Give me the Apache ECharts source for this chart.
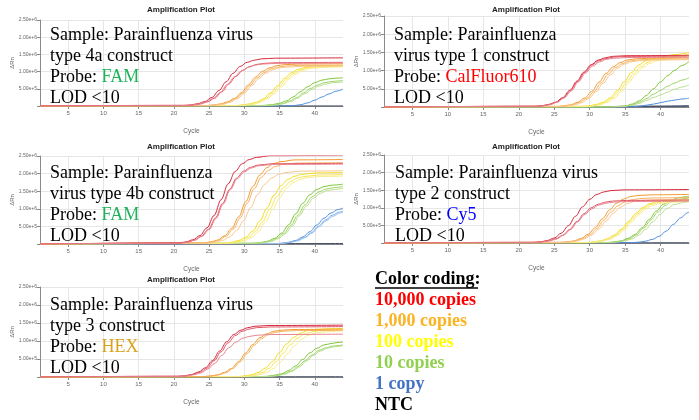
<!DOCTYPE html>
<html lang="en">
<head>
<meta charset="UTF-8">
<script src="https://cdn.jsdelivr.net/npm/echarts@6/dist/echarts.min.js"></script>
<title>Amplification Plots</title>
<style>html,body{margin:0;padding:0;background:#fff;}</style>
</head>
<body>
<div id="main" style="width:699px;height:420px;"></div>
<script type="text/javascript">
// values are dRn in millions
var xTicks = [5, 10, 15, 20, 25, 30, 35, 40];

// panel 1: type 4a, FAM
var p1Red = [
    [[1,0],[21.4,0.02],[22.4,0.03],[23.4,0.07],[24.4,0.13],[25.4,0.25],[26.4,0.45],[27.4,0.70],[28.4,0.95],[29.4,1.15],[30.4,1.27],[31.4,1.33],[32.4,1.37],[34.4,1.39],[44,1.40]],
    [[1,0],[21.8,0.01],[22.8,0.03],[23.8,0.06],[24.8,0.12],[25.8,0.23],[26.8,0.41],[27.8,0.64],[28.8,0.86],[29.8,1.04],[30.8,1.15],[31.8,1.21],[32.8,1.24],[34.8,1.26],[44,1.27]],
    [[1,0],[21.6,0.01],[22.6,0.03],[23.6,0.06],[24.6,0.12],[25.6,0.23],[26.6,0.40],[27.6,0.63],[28.6,0.85],[29.6,1.02],[30.6,1.13],[31.6,1.19],[32.6,1.22],[34.6,1.24],[44,1.25]]
];
var p1Orange = [
    [[1,0],[24.6,0.01],[25.6,0.03],[26.6,0.06],[27.6,0.12],[28.6,0.22],[29.6,0.39],[30.6,0.62],[31.6,0.84],[32.6,1.01],[33.6,1.11],[34.6,1.17],[35.6,1.20],[37.6,1.22],[44,1.23]],
    [[1,0],[24.8,0.01],[25.8,0.03],[26.8,0.06],[27.8,0.11],[28.8,0.22],[29.8,0.38],[30.8,0.60],[31.8,0.81],[32.8,0.97],[33.8,1.08],[34.8,1.13],[35.8,1.16],[37.8,1.18],[44,1.19]],
    [[1,0],[25,0.01],[26,0.03],[27,0.05],[28,0.11],[29,0.21],[30,0.37],[31,0.58],[32,0.79],[33,0.95],[34,1.05],[35,1.11],[36,1.13],[38,1.15],[44,1.16]]
];
var p1Yellow = [
    [[1,0],[28.7,0.01],[29.7,0.03],[30.7,0.06],[31.7,0.11],[32.7,0.21],[33.7,0.38],[34.7,0.59],[35.7,0.80],[36.7,0.97],[37.7,1.07],[38.7,1.12],[39.7,1.15],[41.7,1.17],[44,1.18]],
    [[1,0],[29,0.01],[30,0.03],[31,0.05],[32,0.11],[33,0.21],[34,0.37],[35,0.58],[36,0.79],[37,0.95],[38,1.05],[39,1.11],[40,1.13],[42,1.15],[44,1.16]],
    [[1,0],[29.3,0.01],[30.3,0.03],[31.3,0.05],[32.3,0.11],[33.3,0.21],[34.3,0.37],[35.3,0.57],[36.3,0.77],[37.3,0.93],[38.3,1.03],[39.3,1.09],[40.3,1.11],[42.3,1.13],[44,1.14]]
];
var p1Green = [
    [[1,0],[32,0.01],[33,0.02],[34,0.04],[35,0.08],[36,0.15],[37,0.27],[38,0.42],[39,0.56],[40,0.68],[41,0.75],[42,0.79],[43,0.81],[44,0.82]],
    [[1,0],[32.4,0.01],[33.4,0.02],[34.4,0.04],[35.4,0.07],[36.4,0.14],[37.4,0.24],[38.4,0.38],[39.4,0.51],[40.4,0.61],[41.4,0.68],[42.4,0.71],[43.4,0.73],[44,0.74]],
    [[1,0],[32.6,0.01],[33.6,0.02],[34.6,0.03],[35.6,0.07],[36.6,0.13],[37.6,0.23],[38.6,0.36],[39.6,0.48],[40.6,0.58],[41.6,0.64],[42.6,0.68],[43.6,0.69],[44,0.70]]
];
var p1Blue = [
    [[1,0],[35,0],[37,0.01],[38,0.04],[39,0.09],[40,0.17],[41,0.26],[42,0.35],[43,0.43],[44,0.49]]
];
var p1Ntc = [[[1,0],[44,0]]];

// panel 2: type 1, CalFluor610
var p2Red = [
    [[1,0],[22.2,0.02],[23.2,0.03],[24.2,0.07],[25.2,0.13],[26.2,0.26],[27.2,0.46],[28.2,0.71],[29.2,0.96],[30.2,1.16],[31.2,1.29],[32.2,1.35],[33.2,1.39],[35.2,1.41],[44,1.42]],
    [[1,0],[22.3,0.02],[23.3,0.03],[24.3,0.07],[25.3,0.13],[26.3,0.25],[27.3,0.45],[28.3,0.70],[29.3,0.95],[30.3,1.15],[31.3,1.27],[32.3,1.33],[33.3,1.37],[35.3,1.39],[44,1.40]],
    [[1,0],[22.4,0.02],[23.4,0.03],[24.4,0.06],[25.4,0.13],[26.4,0.25],[27.4,0.44],[28.4,0.69],[29.4,0.93],[30.4,1.12],[31.4,1.24],[32.4,1.31],[33.4,1.34],[35.4,1.36],[44,1.37]]
];
var p2Orange = [
    [[1,0],[25.3,0.01],[26.3,0.03],[27.3,0.06],[28.3,0.13],[29.3,0.25],[30.3,0.43],[31.3,0.68],[32.3,0.92],[33.3,1.10],[34.3,1.22],[35.3,1.29],[36.3,1.32],[38.3,1.34],[44,1.35]],
    [[1,0],[25.6,0.01],[26.6,0.03],[27.6,0.06],[28.6,0.13],[29.6,0.24],[30.6,0.42],[31.6,0.66],[32.6,0.90],[33.6,1.08],[34.6,1.19],[35.6,1.26],[36.6,1.29],[38.6,1.31],[44,1.32]],
    [[1,0],[25.9,0.01],[26.9,0.03],[27.9,0.06],[28.9,0.12],[29.9,0.24],[30.9,0.42],[31.9,0.65],[32.9,0.88],[33.9,1.06],[34.9,1.18],[35.9,1.24],[36.9,1.27],[38.9,1.29],[44,1.30]]
];
var p2Yellow = [
    [[1,0],[28.9,0.02],[29.9,0.03],[30.9,0.07],[31.9,0.13],[32.9,0.25],[33.9,0.45],[34.9,0.70],[35.9,0.95],[36.9,1.15],[37.9,1.27],[38.9,1.33],[39.9,1.37],[42,1.44],[44,1.50]],
    [[1,0],[29.2,0.01],[30.2,0.03],[31.2,0.06],[32.2,0.13],[33.2,0.25],[34.2,0.44],[35.2,0.68],[36.2,0.92],[37.2,1.11],[38.2,1.23],[39.2,1.30],[40.2,1.33],[42,1.39],[44,1.46]],
    [[1,0],[29.5,0.01],[30.5,0.03],[31.5,0.06],[32.5,0.13],[33.5,0.24],[34.5,0.43],[35.5,0.67],[36.5,0.90],[37.5,1.09],[38.5,1.20],[39.5,1.27],[40.5,1.30],[42,1.35],[44,1.42]]
];
var p2Green = [
    [[1,0],[33,0],[35,0.03],[36,0.08],[37,0.17],[38,0.32],[39,0.50],[40,0.69],[41,0.86],[42,1.01],[43,1.14],[44,1.25]],
    [[1,0],[33,0],[35,0.02],[36,0.06],[37,0.13],[38,0.23],[39,0.35],[40,0.46],[41,0.57],[42,0.66],[43,0.74],[44,0.80]],
    [[1,0],[33,0],[35,0.02],[36,0.05],[37,0.10],[38,0.18],[39,0.26],[40,0.33],[41,0.41],[42,0.49],[43,0.55],[44,0.60]]
];
var p2Blue = [
    [[1,0],[35,0],[37,0.02],[38,0.05],[39,0.08],[40,0.12],[41,0.16],[42,0.19],[43,0.22],[44,0.24]]
];
var p2Ntc = [
    [[1,0],[20,0.005],[30,0.01],[40,0.025],[44,0.035]],
    [[1,0],[20,0],[44,0.01]]
];

// panel 3: type 4b, FAM
var p3Red = [
    [[1,0],[20.7,0.03],[21.7,0.06],[22.7,0.12],[23.7,0.24],[24.7,0.46],[25.7,0.81],[26.7,1.26],[27.7,1.71],[28.7,2.06],[29.7,2.28],[30.7,2.40],[31.7,2.46],[33.7,2.51],[44,2.52]],
    [[1,0],[20.9,0.03],[21.9,0.05],[22.9,0.11],[23.9,0.22],[24.9,0.42],[25.9,0.74],[26.9,1.15],[27.9,1.55],[28.9,1.87],[29.9,2.07],[30.9,2.18],[31.9,2.24],[33.9,2.28],[44,2.29]],
    [[1,0],[21,0.02],[22,0.05],[23,0.11],[24,0.22],[25,0.41],[26,0.73],[27,1.14],[28,1.54],[29,1.86],[30,2.05],[31,2.16],[32,2.22],[34,2.26],[44,2.27]]
];
var p3Orange = [
    [[1,0],[24.2,0.03],[25.2,0.06],[26.2,0.11],[27.2,0.23],[28.2,0.44],[29.2,0.77],[30.2,1.20],[31.2,1.63],[32.2,1.96],[33.2,2.17],[34.2,2.29],[35.2,2.34],[37.2,2.39],[44,2.40]],
    [[1,0],[24.4,0.03],[25.4,0.05],[26.4,0.11],[27.4,0.22],[28.4,0.42],[29.4,0.74],[30.4,1.16],[31.4,1.57],[32.4,1.89],[33.4,2.09],[34.4,2.20],[35.4,2.26],[37.4,2.30],[44,2.31]],
    [[1,0],[24.9,0.02],[25.9,0.05],[26.9,0.10],[27.9,0.20],[28.9,0.38],[29.9,0.67],[30.9,1.04],[31.9,1.41],[32.9,1.70],[33.9,1.88],[34.9,1.98],[35.9,2.03],[37.9,2.07],[44,2.08]]
];
var p3Yellow = [
    [[1,0],[27.2,0.02],[28.2,0.05],[29.2,0.10],[30.2,0.19],[31.2,0.37],[32.2,0.65],[33.2,1.02],[34.2,1.38],[35.2,1.66],[36.2,1.84],[37.2,1.93],[38.2,1.98],[40.2,2.02],[44,2.03]],
    [[1,0],[27.6,0.02],[28.6,0.05],[29.6,0.09],[30.6,0.19],[31.6,0.36],[32.6,0.63],[33.6,0.99],[34.6,1.34],[35.6,1.61],[36.6,1.78],[37.6,1.88],[38.6,1.92],[40.6,1.96],[44,1.97]],
    [[1,0],[28,0.02],[29,0.04],[30,0.09],[31,0.18],[32,0.35],[33,0.62],[34,0.97],[35,1.31],[36,1.58],[37,1.75],[38,1.84],[39,1.89],[41,1.92],[44,1.93]]
];
var p3Green = [
    [[1,0],[31.3,0.02],[32.3,0.04],[33.3,0.08],[34.3,0.16],[35.3,0.31],[36.3,0.55],[37.3,0.86],[38.3,1.16],[39.3,1.40],[40.3,1.55],[41.3,1.63],[42.3,1.67],[44,1.70]],
    [[1,0],[31.6,0.02],[32.6,0.04],[33.6,0.08],[34.6,0.16],[35.6,0.30],[36.6,0.53],[37.6,0.82],[38.6,1.11],[39.6,1.34],[40.6,1.48],[41.6,1.56],[42.6,1.60],[44,1.63]],
    [[1,0],[31.8,0.02],[32.8,0.04],[33.8,0.07],[34.8,0.15],[35.8,0.29],[36.8,0.51],[37.8,0.80],[38.8,1.08],[39.8,1.30],[40.8,1.44],[41.8,1.52],[42.8,1.55],[44,1.58]]
];
var p3Blue = [
    [[1,0],[34.3,0.01],[35.3,0.02],[36.3,0.05],[37.3,0.10],[38.3,0.20],[39.3,0.35],[40.3,0.54],[41.3,0.73],[42.3,0.88],[43.3,0.98],[44,1.02]],
    [[1,0],[34.5,0.01],[35.5,0.02],[36.5,0.05],[37.5,0.10],[38.5,0.18],[39.5,0.32],[40.5,0.50],[41.5,0.68],[42.5,0.82],[43.5,0.91],[44,0.93]],
    [[1,0],[34.6,0.01],[35.6,0.02],[36.6,0.05],[37.6,0.09],[38.6,0.18],[39.6,0.31],[40.6,0.49],[41.6,0.66],[42.6,0.79],[43.6,0.88],[44,0.90]]
];
var p3Ntc = [[[1,0],[44,0.01]]];

// panel 4: type 2, Cy5
var p4Red = [
    [[1,0],[22,0.02],[23,0.03],[24,0.07],[25,0.14],[26,0.28],[27,0.49],[28,0.76],[29,1.03],[30,1.24],[31,1.38],[32,1.45],[33,1.49],[35,1.51],[44,1.52]],
    [[1,0],[22.2,0.01],[23.2,0.03],[24.2,0.06],[25.2,0.12],[26.2,0.22],[27.2,0.39],[28.2,0.61],[29.2,0.83],[30.2,1.00],[31.2,1.10],[32.2,1.16],[33.2,1.19],[35.2,1.21],[44,1.22]],
    [[1,0],[22.3,0.01],[23.3,0.03],[24.3,0.06],[25.3,0.11],[26.3,0.22],[27.3,0.38],[28.3,0.60],[29.3,0.81],[30.3,0.97],[31.3,1.08],[32.3,1.13],[33.3,1.16],[35.3,1.18],[44,1.19]]
];
var p4Orange = [
    [[1,0],[25.8,0.02],[26.8,0.03],[27.8,0.06],[28.8,0.13],[29.8,0.25],[30.8,0.44],[31.8,0.69],[32.8,0.94],[33.8,1.13],[34.8,1.25],[35.8,1.32],[36.8,1.35],[38.8,1.37],[44,1.38]],
    [[1,0],[26,0.01],[27,0.03],[28,0.06],[29,0.12],[30,0.23],[31,0.41],[32,0.65],[33,0.88],[34,1.06],[35,1.17],[36,1.23],[37,1.26],[39,1.28],[44,1.29]],
    [[1,0],[26.3,0.01],[27.3,0.03],[28.3,0.06],[29.3,0.12],[30.3,0.23],[31.3,0.40],[32.3,0.62],[33.3,0.84],[34.3,1.01],[35.3,1.12],[36.3,1.18],[37.3,1.21],[39.3,1.23],[44,1.24]]
];
var p4Yellow = [
    [[1,0],[29.5,0.01],[30.5,0.03],[31.5,0.06],[32.5,0.12],[33.5,0.23],[34.5,0.40],[35.5,0.62],[36.5,0.84],[37.5,1.01],[38.5,1.12],[39.5,1.18],[40.5,1.21],[42.5,1.23],[44,1.24]],
    [[1,0],[29.7,0.01],[30.7,0.03],[31.7,0.06],[32.7,0.11],[33.7,0.22],[34.7,0.39],[35.7,0.61],[36.7,0.82],[37.7,0.99],[38.7,1.10],[39.7,1.15],[40.7,1.18],[42.7,1.20],[44,1.21]],
    [[1,0],[29.9,0.01],[30.9,0.03],[31.9,0.06],[32.9,0.11],[33.9,0.21],[34.9,0.38],[35.9,0.59],[36.9,0.80],[37.9,0.97],[38.9,1.07],[39.9,1.12],[40.9,1.15],[42.9,1.17],[44,1.18]]
];
var p4Green = [
    [[1,0],[32.4,0.01],[33.4,0.03],[34.4,0.06],[35.4,0.13],[36.4,0.24],[37.4,0.43],[38.4,0.67],[39.4,0.91],[40.4,1.10],[41.4,1.21],[42.4,1.28],[43.4,1.31],[44,1.32]],
    [[1,0],[32.6,0.01],[33.6,0.03],[34.6,0.06],[35.6,0.12],[36.6,0.24],[37.6,0.42],[38.6,0.65],[39.6,0.88],[40.6,1.06],[41.6,1.18],[42.6,1.24],[43.6,1.27],[44,1.28]],
    [[1,0],[32.9,0.01],[33.9,0.03],[34.9,0.06],[35.9,0.11],[36.9,0.22],[37.9,0.39],[38.9,0.60],[39.9,0.81],[40.9,0.98],[41.9,1.09],[42.9,1.14],[43.9,1.17],[44,1.17]]
];
var p4Blue = [
    [[1,0],[35.8,0.01],[36.8,0.02],[37.8,0.05],[38.8,0.10],[39.8,0.19],[40.8,0.34],[41.8,0.53],[42.8,0.71],[43.8,0.86],[44,0.88]]
];
var p4Ntc = [[[1,0],[44,0.005]]];

// panel 5: type 3, HEX
var p5Red = [
    [[1,0],[20.5,0.02],[21.5,0.03],[22.5,0.07],[23.5,0.14],[24.5,0.26],[25.5,0.46],[26.5,0.72],[27.5,0.98],[28.5,1.18],[29.5,1.30],[30.5,1.37],[31.5,1.41],[33.5,1.43],[44,1.44]],
    [[1,0],[20.7,0.02],[21.7,0.03],[22.7,0.07],[23.7,0.13],[24.7,0.25],[25.7,0.45],[26.7,0.70],[27.7,0.95],[28.7,1.15],[29.7,1.27],[30.7,1.33],[31.7,1.37],[33.7,1.39],[44,1.40]],
    [[1,0],[20.8,0.01],[21.8,0.03],[22.8,0.06],[23.8,0.11],[24.8,0.22],[25.8,0.38],[26.8,0.60],[27.8,0.81],[28.8,0.97],[29.8,1.08],[30.8,1.13],[31.8,1.16],[33.8,1.18],[44,1.19]]
];
var p5Orange = [
    [[1,0],[24.2,0.01],[25.2,0.03],[26.2,0.06],[27.2,0.13],[28.2,0.24],[29.2,0.43],[30.2,0.67],[31.2,0.90],[32.2,1.09],[33.2,1.20],[34.2,1.27],[35.2,1.30],[37.2,1.32],[44,1.33]],
    [[1,0],[24.4,0.01],[25.4,0.03],[26.4,0.06],[27.4,0.12],[28.4,0.24],[29.4,0.42],[30.4,0.65],[31.4,0.88],[32.4,1.06],[33.4,1.18],[34.4,1.24],[35.4,1.27],[37.4,1.29],[44,1.30]]
];
var p5Yellow = [
    [[1,0],[29,0.01],[30,0.03],[31,0.06],[32,0.13],[33,0.25],[34,0.43],[35,0.68],[36,0.92],[37,1.10],[38,1.22],[39,1.29],[40,1.32],[42,1.34],[44,1.35]],
    [[1,0],[29.5,0.01],[30.5,0.03],[31.5,0.06],[32.5,0.12],[33.5,0.24],[34.5,0.42],[35.5,0.66],[36.5,0.89],[37.5,1.07],[38.5,1.19],[39.5,1.25],[40.5,1.28],[42.5,1.30],[44,1.31]],
    [[1,0],[30.1,0.01],[31.1,0.03],[32.1,0.06],[33.1,0.12],[34.1,0.23],[35.1,0.41],[36.1,0.64],[37.1,0.87],[38.1,1.05],[39.1,1.16],[40.1,1.22],[41.1,1.25],[43.1,1.27],[44,1.27]]
];
var p5Green = [
    [[1,0],[32.3,0.01],[33.3,0.02],[34.3,0.05],[35.3,0.09],[36.3,0.18],[37.3,0.31],[38.3,0.49],[39.3,0.67],[40.3,0.80],[41.3,0.89],[42.3,0.93],[43.3,0.96],[44,0.97]],
    [[1,0],[32.6,0.01],[33.6,0.02],[34.6,0.04],[35.6,0.09],[36.6,0.16],[37.6,0.29],[38.6,0.45],[39.6,0.61],[40.6,0.74],[41.6,0.81],[42.6,0.86],[43.6,0.88],[44,0.89]],
    [[1,0],[32.8,0.01],[33.8,0.02],[34.8,0.04],[35.8,0.08],[36.8,0.16],[37.8,0.28],[38.8,0.44],[39.8,0.60],[40.8,0.72],[41.8,0.80],[42.8,0.84],[43.8,0.86],[44,0.87]]
];
var p5Ntc = [[[1,0],[44,0.005]]];

// overlay texts
var p1Text = ['Sample: Parainfluenza virus', 'type 4a construct', 'FAM', 'LOD <10'];
var p2Text = ['Sample: Parainfluenza', 'virus type 1 construct', 'CalFluor610', 'LOD <10'];
var p3Text = ['Sample: Parainfluenza', 'virus type 4b construct', 'FAM', 'LOD <10'];
var p4Text = ['Sample: Parainfluenza virus', 'type 2 construct', 'Cy5', 'LOD <10'];
var p5Text = ['Sample: Parainfluenza virus', 'type 3 construct', 'HEX', 'LOD <10'];
var legendLabels = ['10,000 copies', '1,000 copies', '100 copies', '10 copies', '1 copy', 'NTC'];

var panels = [
    {grid: {left: 40, top: 20, width: 303, height: 86}, titleAt: [181, 10], textAt: [50, 35], probeColor: '#1db35a',
     text: p1Text, curves: {ntc: p1Ntc, blue: p1Blue, green: p1Green, yellow: p1Yellow, orange: p1Orange, red: p1Red}},
    {grid: {left: 384, top: 16, width: 305, height: 91}, titleAt: [526, 10], textAt: [394, 35], probeColor: '#ff0000',
     text: p2Text, curves: {ntc: p2Ntc, blue: p2Blue, green: p2Green, yellow: p2Yellow, orange: p2Orange, red: p2Red}},
    {grid: {left: 40, top: 156, width: 303, height: 88}, titleAt: [181, 147], textAt: [50, 173], probeColor: '#1db35a',
     text: p3Text, curves: {ntc: p3Ntc, blue: p3Blue, green: p3Green, yellow: p3Yellow, orange: p3Orange, red: p3Red}},
    {grid: {left: 384, top: 155, width: 305, height: 88}, titleAt: [526, 147], textAt: [395, 173], probeColor: '#0000ff',
     text: p4Text, curves: {ntc: p4Ntc, blue: p4Blue, green: p4Green, yellow: p4Yellow, orange: p4Orange, red: p4Red}},
    {grid: {left: 40, top: 287, width: 303, height: 90}, titleAt: [181, 280], textAt: [50, 305], probeColor: '#d9a21b',
     text: p5Text, curves: {ntc: p5Ntc, green: p5Green, yellow: p5Yellow, orange: p5Orange, red: p5Red}}
];

var shades = {
    red: ['#d42a3b', '#e05566', '#e8848f'],
    orange: ['#f29a2e', '#f5b060', '#f8c78e'],
    yellow: ['#f2dc1c', '#f5e55a', '#f7eb8a'],
    green: ['#7cc437', '#9cd163', '#b8de8f'],
    blue: ['#4f8fdc', '#79aae6', '#9dc2ee'],
    ntc: ['#22304d', '#3a4663', '#3a4663']
};
var legendColors = ['#ff0000', '#fbb323', '#ffff00', '#92d050', '#4472c4', '#000000'];
var order = ['ntc', 'blue', 'green', 'yellow', 'orange', 'red'];

var myChart = echarts.init(document.getElementById('main'));

var grids = [], xAxes = [], yAxes = [], series = [], graphics = [];
var serif = '"Liberation Serif", "Times New Roman", serif';

// text sits above grid lines and curves, as in the slide
function txt(x, y, text, font, fill, align, rich) {
    var st = {x: x, y: y, text: text, font: font, fill: fill,
              align: align || 'left', textAlign: align || 'left',
              verticalAlign: 'middle', textVerticalAlign: 'middle'};
    if (rich) st.rich = rich;
    graphics.push({type: 'text', silent: true, z: 100, style: st});
}

panels.forEach(function (p, i) {
    grids.push(p.grid);
    xAxes.push({
        type: 'value', gridIndex: i, min: 1, max: 44,
        axisLine: {lineStyle: {color: '#8a8a8a'}},
        axisTick: {customValues: xTicks, length: 3, lineStyle: {color: '#8a8a8a'}},
        axisLabel: {customValues: xTicks, fontSize: 6, color: '#666', margin: 4},
        splitLine: {show: true, lineStyle: {color: '#e6e6e6'}},
        name: 'Cycle', nameLocation: 'middle', nameGap: 22,
        nameTextStyle: {fontSize: 6.5, color: '#666'}
    });
    yAxes.push({
        type: 'value', gridIndex: i, min: 0, max: 2.5, interval: 0.5,
        axisLine: {show: true, lineStyle: {color: '#8a8a8a'}},
        axisTick: {show: true, length: 3, lineStyle: {color: '#8a8a8a'}},
        axisLabel: {fontSize: 5, color: '#666', margin: 3,
            formatter: function (v) { return v === 0 ? '' : (v * 1e6).toExponential(2); }},
        splitLine: {lineStyle: {color: '#e6e6e6'}},
        name: 'ΔRn', nameLocation: 'middle', nameGap: 25,
        nameTextStyle: {fontSize: 6, color: '#666'}
    });
    order.forEach(function (key) {
        (p.curves[key] || []).forEach(function (curve, j) {
            series.push({
                type: 'line', xAxisIndex: i, yAxisIndex: i, data: curve,
                showSymbol: false, smooth: 0.35, smoothMonotone: 'x', silent: true,
                lineStyle: {width: 1, color: shades[key][j % 3]}
            });
        });
    });

    txt(p.titleAt[0], p.titleAt[1], 'Amplification Plot', 'bold 8px "Liberation Sans", Arial, sans-serif', '#222', 'center');
    var tx = p.textAt[0], ty = p.textAt[1], f = '18px ' + serif;
    txt(tx, ty, p.text[0], f, '#000');
    txt(tx, ty + 21, p.text[1], f, '#000');
    txt(tx, ty + 42, 'Probe: {c|' + p.text[2] + '}', f, '#000', 'left',
        {c: {fill: p.probeColor, fontSize: 18, fontFamily: serif}});
    txt(tx, ty + 63, p.text[3], f, '#000');
});

// colour key
var bold = 'bold 18px ' + serif;
txt(375, 279, 'Color coding:', bold, '#000');
graphics.push({type: 'line', silent: true, z: 100, shape: {x1: 375, y1: 288, x2: 478, y2: 288},
               style: {stroke: '#000', lineWidth: 1.5}});
legendLabels.forEach(function (lab, i) {
    txt(375, 300 + i * 21, lab, bold, legendColors[i]);
});

var option = {
    animation: false,
    textStyle: {fontFamily: '"Liberation Sans", Arial, sans-serif'},
    grid: grids,
    xAxis: xAxes,
    yAxis: yAxes,
    series: series,
    graphic: graphics
};
myChart.setOption(option);
</script>
</body>
</html>
